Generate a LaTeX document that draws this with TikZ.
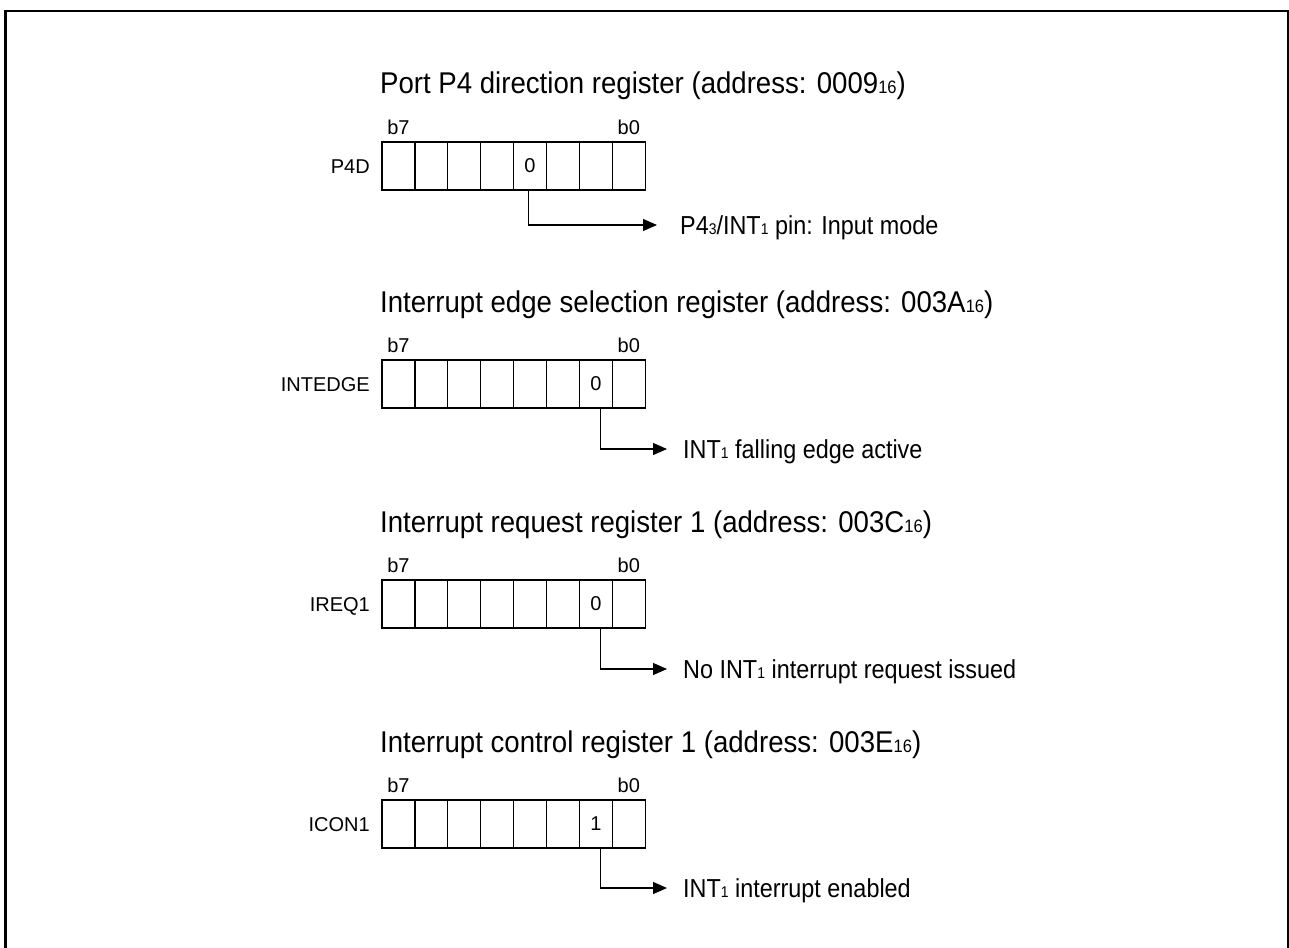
\documentclass[tikz,border=0pt]{standalone}
\usepackage{fontspec}
\setmainfont{Liberation Sans}
\newfontfamily\titlefont[FakeStretch=0.92]{Liberation Sans}
\newfontfamily\descfont[FakeStretch=0.9]{Liberation Sans}
\usetikzlibrary{arrows.meta}
\newcommand{\tsub}[1]{{\fontsize{18pt}{18pt}\selectfont #1}}
\newcommand{\dsub}[1]{{\fontsize{15.5pt}{15.5pt}\selectfont #1}}
\tikzset{
  titletext/.style={inner sep=0pt, font=\titlefont\fontsize{30pt}{32pt}\selectfont},
  desctext/.style={inner sep=0pt, font=\descfont\fontsize{26pt}{28pt}\selectfont},
  smalltext/.style={inner sep=0pt, font=\fontsize{20pt}{22pt}\selectfont},
  cellbox/.style={draw, line width=1.2pt, minimum width=32.9pt, minimum height=48pt, inner sep=0pt},
  conn/.style={draw, line width=1.2pt, -{Triangle[length=14pt,width=12pt]}},
  frame/.style={draw, line width=2.2pt}
}
\newcommand{\regblock}[6]{%
  \node[titletext, anchor=base west] (#1-t) at (380,#2-48) {#4};
  \foreach \i in {0,...,7}{\node[cellbox] (#1-c\i) at ({382+32.9*\i+16.45},#2+24) {};}
  \node[smalltext] (#1-v) at (#1-c#5) {#6};
  \node[smalltext, anchor=base] (#1-b7) at ([yshift=6.5pt]#1-c0.north) {b7};
  \node[smalltext, anchor=base] (#1-b0) at ([yshift=6.5pt]#1-c7.north) {b0};
  \node[smalltext, anchor=base east] (#1-n) at (370,#2+31) {#3};
}
\begin{document}
\begin{tikzpicture}[x=1pt,y=-1pt]
\useasboundingbox (0,0) rectangle (1289,947);
\path[frame] (5.5,11) rectangle (1288,970);
% register 1
\regblock{a}{142}{P4D}{Port P4 direction register (address: 0009\tsub{16})}{4}{0}
\coordinate (a-tip) at (657,225);
\draw[conn] ([xshift=-1.5pt]a-c4.south) |- (a-tip);
\node[desctext, anchor=base west] (a-d) at (680,234.5) {P4\dsub{3}/INT\dsub{1} pin: Input mode};
% register 2
\regblock{b}{360}{INTEDGE}{Interrupt edge selection register (address: 003A\tsub{16})}{6}{0}
\coordinate (b-tip) at (667,449);
\draw[conn] ([xshift=4.5pt]b-c6.south) |- (b-tip);
\node[desctext, anchor=base west] (b-d) at (683,458.5) {INT\dsub{1} falling edge active};
% register 3
\regblock{c}{580}{IREQ1}{Interrupt request register 1 (address: 003C\tsub{16})}{6}{0}
\coordinate (c-tip) at (667,669);
\draw[conn] ([xshift=4.5pt]c-c6.south) |- (c-tip);
\node[desctext, anchor=base west] (c-d) at (683,678.5) {No INT\dsub{1} interrupt request issued};
% register 4
\regblock{d}{800}{ICON1}{Interrupt control register 1 (address: 003E\tsub{16})}{6}{1}
\coordinate (d-tip) at (667,888);
\draw[conn] ([xshift=4.5pt]d-c6.south) |- (d-tip);
\node[desctext, anchor=base west] (d-d) at (683,897.5) {INT\dsub{1} interrupt enabled};
\end{tikzpicture}
\end{document}
